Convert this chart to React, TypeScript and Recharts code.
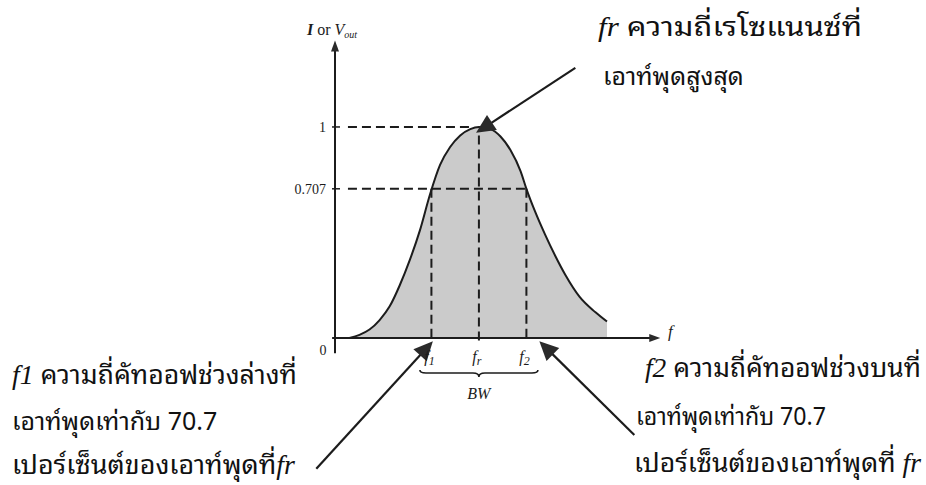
import React from 'react';
import { ComposedChart, Area, XAxis, YAxis, ReferenceLine } from 'recharts';

// response curve (frequency in arbitrary units, fr = 10)
const freq = [1.0, 1.7, 2.4, 3.1, 3.8, 4.5, 5.2, 5.9, 6.6, 7.3, 8.0, 8.7, 9.4, 10, 10.8, 11.5, 12.2, 12.9, 13.3, 13.9, 14.6, 15.3, 16.0, 17.0, 18.1, 18.9];
const response = [0, 0.015, 0.04, 0.085, 0.15, 0.25, 0.37, 0.51, 0.68, 0.82, 0.905, 0.96, 0.99, 1, 0.99, 0.955, 0.89, 0.79, 0.707, 0.6, 0.49, 0.39, 0.3, 0.195, 0.122, 0.078];

const yTicks = [0, 0.707, 1];
const yTickLabels = ['0', '0.707', '1'];

// f1, fr, f2
const xTicks = [6.7, 10, 13.3];
const xTickSubs = ['1', 'r', '2'];

// annotation arrows, [tail, tip] in chart units
const arrowTails = [[16.7, 1.28], [-1.3, -0.62], [20.8, -0.46]];
const arrowTips = [[9.8, 0.972], [6.8, -0.015], [14.2, -0.015]];

const W = 926;
const H = 485;
const INK = '#1c1c1c';
const THAI = "'Noto Sans Thai Looped', Loma, Garuda, Tahoma, 'Noto Sans Thai', 'DejaVu Sans', sans-serif";
const SERIF = "'Liberation Serif', 'DejaVu Serif', serif";

const data = freq.map((f, i) => ({ f, v: response[i] }));

const Arrow = (props: any) => {
  const { x1, y1, x2, y2, head = 18, wing = 8, width = 2 } = props;
  if ([x1, y1, x2, y2].some((n) => typeof n !== 'number' || isNaN(n))) return null;
  const a = Math.atan2(y2 - y1, x2 - x1);
  const bx = x2 - head * Math.cos(a);
  const by = y2 - head * Math.sin(a);
  const nx = -Math.sin(a) * wing;
  const ny = Math.cos(a) * wing;
  return (
    <g>
      <line x1={x1} y1={y1} x2={bx + Math.cos(a) * 2} y2={by + Math.sin(a) * 2} stroke={INK} strokeWidth={width} />
      <polygon points={`${x2},${y2} ${bx + nx},${by + ny} ${bx - nx},${by - ny}`} fill="#2a2a2a" />
    </g>
  );
};

const Brace = (props: any) => {
  const { x1, y1, x2 } = props;
  if ([x1, y1, x2].some((n) => typeof n !== 'number' || isNaN(n))) return null;
  const m = (x1 + x2) / 2;
  const d = `M${x1},${y1 - 3} Q${x1},${y1} ${x1 + 6},${y1} L${m - 6},${y1} Q${m},${y1} ${m},${y1 + 4} Q${m},${y1} ${m + 6},${y1} L${x2 - 6},${y1} Q${x2},${y1} ${x2},${y1 - 3}`;
  return (
    <g>
      <path d={d} fill="none" stroke={INK} strokeWidth={1.6} />
      <text x={m} y={y1 + 26} textAnchor="middle" fontFamily={SERIF} fontStyle="italic" fontSize={16} fill={INK}>
        BW
      </text>
    </g>
  );
};

const YTick = (props: any) => {
  const { x, y, payload, index } = props;
  if (payload.value === 0) {
    return (
      <text x={x - 12} y={y + 17} textAnchor="middle" fontFamily={SERIF} fontSize={14} fill={INK}>
        0
      </text>
    );
  }
  return (
    <g>
      <line x1={x - 3} x2={x + 5} y1={y} y2={y} stroke={INK} strokeWidth={1.5} />
      <text x={x - 9} y={y + 5} textAnchor="end" fontFamily={SERIF} fontSize={14} fill={INK}>
        {yTickLabels[index]}
      </text>
    </g>
  );
};

const XTick = (props: any) => {
  const { x, y, index } = props;
  return (
    <text x={x - 2} y={y + 24} textAnchor="middle" fontFamily={SERIF} fontStyle="italic" fontSize={16} fill={INK}>
      f<tspan dy={3} fontSize={12}>{xTickSubs[index]}</tspan>
    </text>
  );
};

const dash = { stroke: INK, strokeWidth: 2, strokeDasharray: '9 5', ifOverflow: 'visible' as const };

const fit = { lengthAdjust: 'spacingAndGlyphs' as const };

export default function App() {
  const [f1, fr, f2] = xTicks;
  return (
    <div style={{ position: 'absolute', left: 0, top: 0, width: W, height: H, background: '#fff' }}>
      <ComposedChart width={W} height={H} data={data} margin={{ top: 32, right: 260, bottom: 117, left: 295 }}>
        <XAxis
          type="number"
          dataKey="f"
          domain={[0, 23]}
          ticks={xTicks}
          interval={0}
          tick={<XTick />}
          tickLine={false}
          axisLine={false}
          tickSize={0}
          tickMargin={0}
          height={30}
          allowDataOverflow
        />
        <YAxis
          type="number"
          domain={[0, 1.45]}
          ticks={yTicks}
          interval={0}
          tick={<YTick />}
          tickLine={false}
          axisLine={false}
          tickSize={0}
          tickMargin={0}
          width={40}
          allowDataOverflow
        />
        <Area
          type="monotone"
          dataKey="v"
          baseValue={0}
          stroke={INK}
          strokeWidth={2}
          fill="#cbcbcb"
          fillOpacity={1}
          dot={false}
          activeDot={false}
          isAnimationActive={false}
        />

        {/* axes with arrow heads */}
        <ReferenceLine
          segment={[{ x: 0, y: -0.072 }, { x: 0, y: 1.41 }]}
          ifOverflow="visible"
          shape={(p: any) => <Arrow {...p} head={11} wing={4} width={2} />}
        />
        <ReferenceLine
          segment={[{ x: -0.2, y: 0 }, { x: 22.6, y: 0 }]}
          ifOverflow="visible"
          shape={(p: any) => <Arrow {...p} head={11} wing={4} width={2} />}
        />

        {/* guide lines */}
        <ReferenceLine segment={[{ x: 0.9, y: 1 }, { x: 9.5, y: 1 }]} {...dash} />
        <ReferenceLine segment={[{ x: 0.9, y: 0.707 }, { x: f2, y: 0.707 }]} {...dash} />
        <ReferenceLine segment={[{ x: f1, y: 0.707 }, { x: f1, y: -0.01 }]} {...dash} />
        <ReferenceLine segment={[{ x: fr, y: 0.96 }, { x: fr, y: -0.025 }]} {...dash} />
        <ReferenceLine segment={[{ x: f2, y: 0.707 }, { x: f2, y: -0.01 }]} {...dash} />

        {/* bandwidth brace */}
        <ReferenceLine
          segment={[{ x: 5.9, y: -0.166 }, { x: 14.1, y: -0.166 }]}
          ifOverflow="visible"
          shape={(p: any) => <Brace {...p} />}
        />

        {/* annotation arrows */}
        {arrowTails.map((t, i) => (
          <ReferenceLine
            key={i}
            segment={[{ x: t[0], y: t[1] }, { x: arrowTips[i][0], y: arrowTips[i][1] }]}
            ifOverflow="visible"
            shape={(p: any) => <Arrow {...p} head={19} wing={9} width={2.2} />}
          />
        ))}
      </ComposedChart>

      <svg width={W} height={H} style={{ position: 'absolute', left: 0, top: 0, pointerEvents: 'none' }}>
        <text x={307} y={35} fontFamily={SERIF} fontSize={16} fill={INK}>
          <tspan fontStyle="italic" fontWeight="bold">I</tspan>
          <tspan> or </tspan>
          <tspan fontStyle="italic">V</tspan>
          <tspan dy={3} fontSize={10} fontStyle="italic">out</tspan>
        </text>
        <text x={668} y={337} fontFamily={SERIF} fontStyle="italic" fontSize={17} fill={INK}>
          f
        </text>

        <g fill="#111" fontFamily={THAI} fontSize={26}>
          <text x={598} y={36} fontSize={27} textLength={264} {...fit}>
            <tspan fontFamily={SERIF} fontStyle="italic">fr</tspan> ความถี่เรโซแนนซ์ที่
          </text>
          <text x={603} y={85} fontSize={25}>เอาท์พุดสูงสุด</text>

          <text x={12} y={384} textLength={285} {...fit}>
            <tspan fontFamily={SERIF} fontStyle="italic" fontSize={27}>f1</tspan> ความถี่คัทออฟช่วงล่างที่
          </text>
          <text x={12} y={430} fontSize={25}>เอาท์พุดเท่ากับ 70.7</text>
          <text x={12} y={474} textLength={283} {...fit}>
            เปอร์เซ็นต์ของเอาท์พุดที่<tspan fontFamily={SERIF} fontStyle="italic" fontSize={27}>fr</tspan>
          </text>

          <text x={645} y={377} textLength={276} {...fit}>
            <tspan fontFamily={SERIF} fontStyle="italic" fontSize={27}>f2</tspan> ความถี่คัทออฟช่วงบนที่
          </text>
          <text x={636} y={425} fontSize={25} textLength={190} {...fit}>เอาท์พุดเท่ากับ 70.7</text>
          <text x={634} y={472} textLength={287} {...fit}>
            เปอร์เซ็นต์ของเอาท์พุดที่ <tspan fontFamily={SERIF} fontStyle="italic" fontSize={27}>fr</tspan>
          </text>
        </g>
      </svg>
    </div>
  );
}
